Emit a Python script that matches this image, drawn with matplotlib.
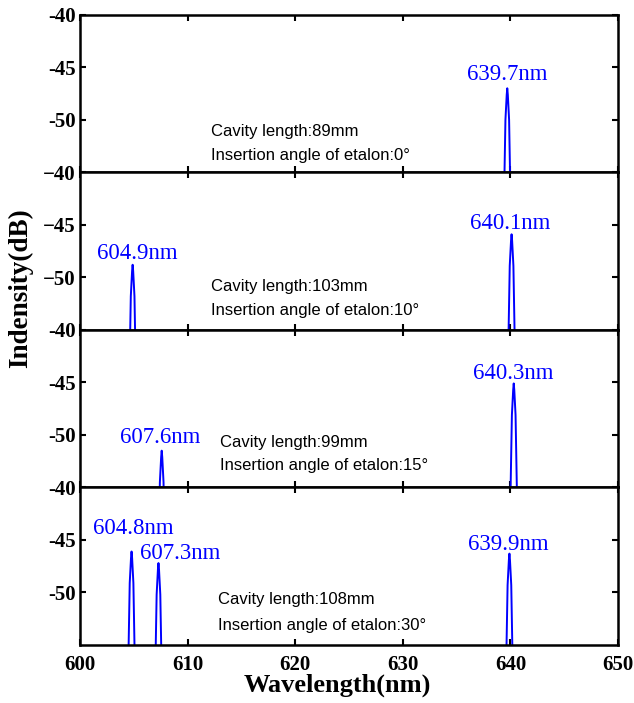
import numpy as np
import matplotlib.pyplot as plt

# Laser spectra for four cavity / etalon settings
cavity_lengths = [89, 103, 99, 108]          # mm
etalon_angles = [0, 10, 15, 30]              # degrees
peak_centers = [[639.7], [604.9, 640.1], [607.6, 640.3], [604.8, 607.3, 639.9]]  # nm
peak_levels = [[-47.0], [-48.8, -45.9], [-51.5, -45.1], [-46.1, -47.2, -46.3]]   # dB
minus_style = ['-', '\u2212', '-', '-']      # tick label dash used on each panel

# label placement (wavelength, dB) per peak
label_pos = [[(639.7, -45.7)],
             [(605.3, -47.7), (640.0, -44.9)],
             [(607.5, -50.2), (640.3, -44.2)],
             [(605.0, -43.9), (609.3, -46.3), (639.8, -45.4)]]
note_pos = [(612.2, -51.1, -53.4), (612.2, -50.9, -53.2),
            (613.0, -50.7, -52.9), (612.8, -50.7, -53.1)]

# spike profile: drop below the peak (dB) vs half width (nm)
drop = np.array([0, 0.6, 3.0, 14.0])
half_w = np.array([0, 0.05, 0.17, 0.36])

serif = 'Liberation Serif'
sans = 'Liberation Sans'

fig, axes = plt.subplots(4, 1, figsize=(6.34, 7.03), dpi=100, sharex=True)
fig.subplots_adjust(left=0.126, right=0.975, top=0.979, bottom=0.0825, hspace=0)

for i, ax in enumerate(axes):
    for c, p in zip(peak_centers[i], peak_levels[i]):
        xs = np.concatenate([c - half_w[::-1], c + half_w[1:]])
        ys = np.concatenate([p - drop[::-1], p - drop[1:]])
        ax.plot(xs, ys, color='#0000ff', lw=1.4, solid_joinstyle='round')
    for c, (lx, ly) in zip(peak_centers[i], label_pos[i]):
        ax.text(lx, ly, f'{c:.1f}nm', color='#0000ff', ha='center', va='center',
                fontsize=16.5, family=serif)
    nx, ny1, ny2 = note_pos[i]
    ax.text(nx, ny1, f'Cavity length:{cavity_lengths[i]}mm', ha='left', va='center',
            fontsize=12, family=sans)
    ax.text(nx, ny2, f'Insertion angle of etalon:{etalon_angles[i]}\u00b0', ha='left',
            va='center', fontsize=12, family=sans)

    ax.set_xlim(600, 650)
    ax.set_ylim(-55, -40)
    yt = [-40, -45, -50]
    ax.set_yticks(yt)
    ax.set_yticklabels([f'{minus_style[i]}{abs(v)}' for v in yt],
                       fontsize=15, fontweight='bold', family=serif)
    ax.set_xticks(np.arange(600, 651, 10))
    ax.tick_params(direction='in', length=4, width=1.5, top=True, right=True, pad=3)
    ax.tick_params(axis='x', pad=7)
    for s in ax.spines.values():
        s.set_linewidth(1.8)

axes[-1].set_xticklabels([str(v) for v in range(600, 651, 10)], fontsize=15,
                         fontweight='bold', family=serif)

fig.text(0.033, 0.59, 'Indensity(dB)', rotation=90, ha='center', va='center',
         fontsize=19.5, fontweight='bold', family=serif)
fig.text(0.532, 0.016, 'Wavelength(nm)', ha='center', va='baseline',
         fontsize=19, fontweight='bold', family=serif)

fig.savefig('out.png', dpi=100)
